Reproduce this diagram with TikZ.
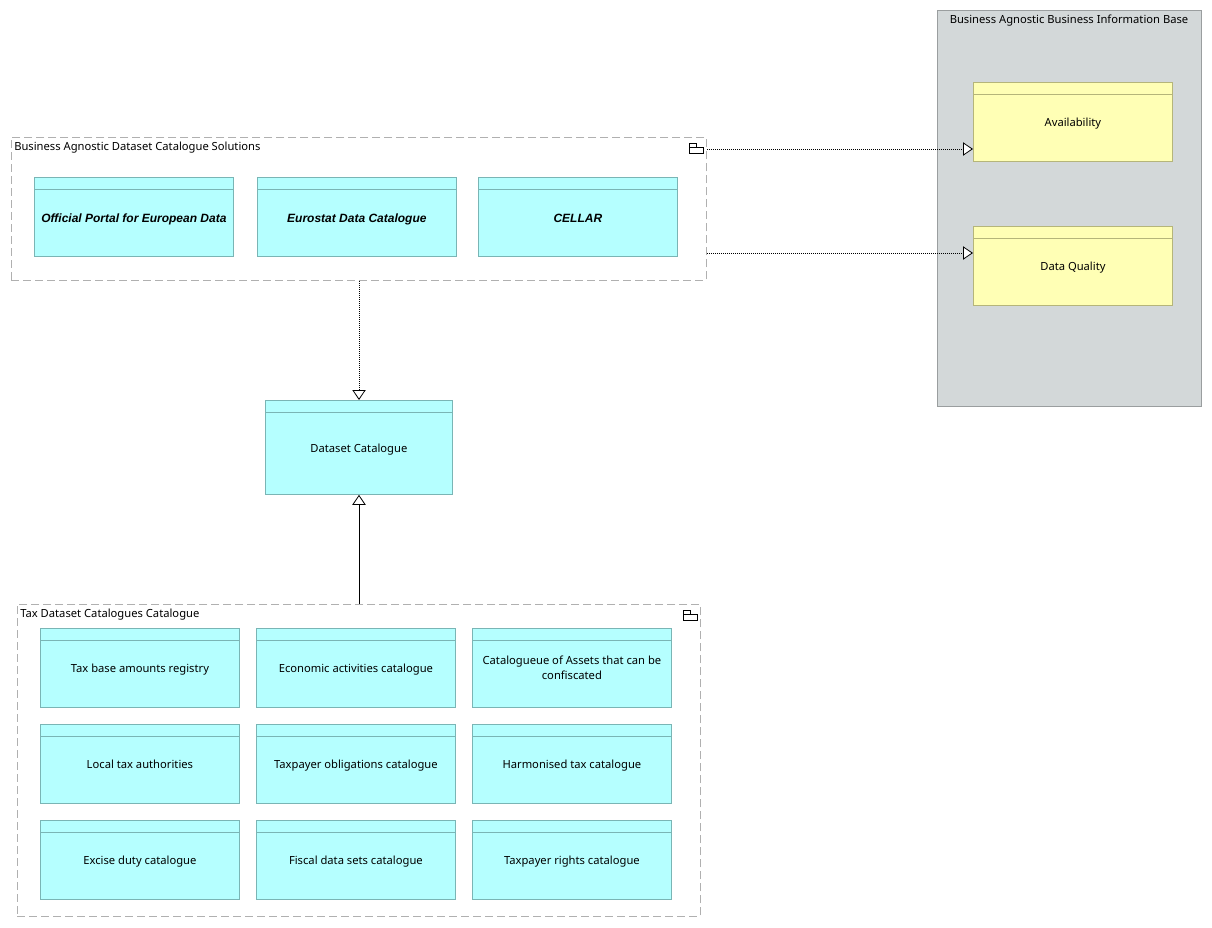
\documentclass[tikz,border=0pt]{standalone}
\usepackage{fontspec}
\setmainfont{Noto Sans}
\newfontfamily\bifont{Liberation Sans}
\usetikzlibrary{arrows.meta}
\definecolor{appfill}{HTML}{B5FFFF}
\definecolor{appdraw}{HTML}{7AB5B5}
\definecolor{datfill}{HTML}{FFFFB5}
\definecolor{datdraw}{HTML}{B5B57A}
\definecolor{grpfill}{HTML}{D3D8D9}
\definecolor{grpdraw}{HTML}{9A9E9F}
\definecolor{dashgray}{HTML}{B0B0B0}
\tikzset{
  px/.style={x=0.75pt,y=-0.75pt},
  elem/.style={rectangle,minimum width=149.25pt,minimum height=59.25pt,inner sep=0pt,align=center,font=\fontsize{8.4}{10.5}\selectfont},
  appbox/.style={elem,fill=appfill,draw=appdraw,line width=0.6pt},
  datbox/.style={elem,fill=datfill,draw=datdraw,line width=0.6pt},
  boldit/.style={font=\fontsize{9}{11}\bifont\bfseries\itshape},
  grpbox/.style={draw=dashgray,dash pattern=on 6pt off 3pt,line width=0.6pt},
  grplabel/.style={font=\fontsize{8.4}{10.5}\selectfont,inner sep=0pt},
  realize/.style={draw=black,line width=0.6pt,dash pattern=on 0.75pt off 0.75pt,-{Triangle[open,length=7.5pt,width=10pt,fill=white]}},
  special/.style={draw=black,line width=0.6pt,-{Triangle[open,length=7.5pt,width=10pt,fill=white]}},
}
\newcommand{\hdr}[2]{\draw[draw=#2,line width=0.6pt] ([yshift=-9pt]#1.north west) -- ([yshift=-9pt]#1.north east);}
\newcommand{\folder}[2]{\draw[black,line width=0.5pt] (#1,#2+4) rectangle (#1+14,#2+10) (#1,#2+4) -- (#1,#2) -- (#1+7,#2) -- (#1+7,#2+4);}
\newcommand{\lt}[1]{\raisebox{-3.6pt}[0pt][0pt]{#1}}
\newcommand{\lb}[1]{\raisebox{-3.9pt}[0pt][0pt]{#1}}
\begin{document}
\begin{tikzpicture}[px]
\useasboundingbox (0,0) rectangle (1212,927);
% right group
\node[draw=grpdraw,fill=grpfill,line width=0.6pt,minimum width=198pt,minimum height=297pt,inner sep=0pt,anchor=north west] (bib) at (937,10) {};
\node[grplabel,anchor=north] (bibl) at (1069,15) {Business Agnostic Business Information Base};
\node[datbox,anchor=north west] (avail) at (973,82) {\lt{Availability}};
\hdr{avail}{datdraw}
\node[datbox,anchor=north west] (dq) at (973,226) {\lt{Data Quality}};
\hdr{dq}{datdraw}
% group 1
\node[grpbox,minimum width=521.25pt,minimum height=107.25pt,inner sep=0pt,anchor=north west] (sol) at (11,137) {};
\node[grplabel,anchor=north west] (soll) at (14,142) {Business Agnostic Dataset Catalogue Solutions};
\folder{689}{143}
\node[appbox,anchor=north west,boldit] (opd) at (34,177) {\lb{Official Portal for European Data}};
\hdr{opd}{appdraw}
\node[appbox,anchor=north west,boldit] (esd) at (257,177) {\lb{Eurostat Data Catalogue}};
\hdr{esd}{appdraw}
\node[appbox,anchor=north west,boldit] (cel) at (478,177) {\lb{CELLAR}};
\hdr{cel}{appdraw}
% dataset catalogue
\node[appbox,anchor=north west,minimum width=140.25pt,minimum height=70.5pt] (dc) at (265,400) {\lt{Dataset Catalogue}};
\hdr{dc}{appdraw}
% tax group
\node[grpbox,minimum width=512.25pt,minimum height=234pt,inner sep=0pt,anchor=north west] (tax) at (17,604) {};
\node[grplabel,anchor=north west] (taxl) at (20,609) {Tax Dataset Catalogues Catalogue};
\folder{683}{610}
\node[appbox,anchor=north west] (t11) at (40,628) {\lt{Tax base amounts registry}};
\node[appbox,anchor=north west] (t12) at (256,628) {\lt{Economic activities catalogue}};
\node[appbox,anchor=north west] (t13) at (472,628) {\shortstack{Catalogueue of Assets that can be\\confiscated}};
\node[appbox,anchor=north west] (t21) at (40,724) {\lt{Local tax authorities}};
\node[appbox,anchor=north west] (t22) at (256,724) {\lt{Taxpayer obligations catalogue}};
\node[appbox,anchor=north west] (t23) at (472,724) {\lt{Harmonised tax catalogue}};
\node[appbox,anchor=north west] (t31) at (40,820) {\lt{Excise duty catalogue}};
\node[appbox,anchor=north west] (t32) at (256,820) {\lt{Fiscal data sets catalogue}};
\node[appbox,anchor=north west] (t33) at (472,820) {\lt{Taxpayer rights catalogue}};
\foreach \n in {t11,t12,t13,t21,t22,t23,t31,t32,t33}{\hdr{\n}{appdraw}}
% connectors
\coordinate (s1) at (sol.east |- 0,149);
\coordinate (e1) at (avail.west |- 0,149);
\draw[realize] (s1) -- (e1);
\coordinate (s2) at (sol.east |- 0,253);
\coordinate (e2) at (dq.west |- 0,253);
\draw[realize] (s2) -- (e2);
\coordinate (s3) at (sol.south -| 359,0);
\coordinate (e3) at (dc.north -| 359,0);
\draw[realize] (s3) -- (e3);
\coordinate (s4) at (tax.north -| 359,0);
\coordinate (e4) at (dc.south -| 359,0);
\draw[special] (s4) -- (e4);
\end{tikzpicture}
\end{document}
